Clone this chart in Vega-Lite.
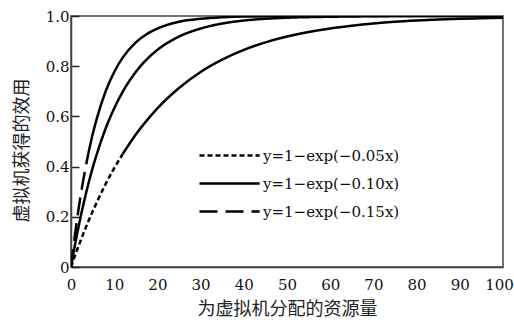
{
  "$schema": "https://vega.github.io/schema/vega-lite/v6.json",
  "width": 432,
  "height": 251,
  "autosize": {"type": "none"},
  "padding": {"left": 71, "top": 16, "right": 11, "bottom": 58},
  "background": "white",
  "config": {
    "view": {"stroke": "#444", "strokeWidth": 1.5},
    "axis": {"labelFont": "DejaVu Serif", "labelFontSize": 15, "labelColor": "#111", "titleFont": "Noto Sans CJK SC", "titleFontSize": 18, "titleFontWeight": "normal", "titleColor": "#222", "grid": false, "domainColor": "#444", "domainWidth": 1.5, "tickColor": "#222", "tickWidth": 1.5},
    "legend": {"labelFont": "DejaVu Serif"}
  },
  "data": {"values": [
    {"series": "y=1−exp(−0.05x)", "part": "a", "x": 0, "y": 0},
    {"series": "y=1−exp(−0.05x)", "part": "a", "x": 1, "y": 0.049},
    {"series": "y=1−exp(−0.05x)", "part": "a", "x": 2, "y": 0.095},
    {"series": "y=1−exp(−0.05x)", "part": "a", "x": 3, "y": 0.139},
    {"series": "y=1−exp(−0.05x)", "part": "a", "x": 4, "y": 0.181},
    {"series": "y=1−exp(−0.05x)", "part": "a", "x": 5, "y": 0.221},
    {"series": "y=1−exp(−0.05x)", "part": "a", "x": 6, "y": 0.259},
    {"series": "y=1−exp(−0.05x)", "part": "a", "x": 8, "y": 0.330},
    {"series": "y=1−exp(−0.05x)", "part": "a", "x": 10, "y": 0.394},
    {"series": "y=1−exp(−0.05x)", "part": "a", "x": 12, "y": 0.451},
    {"series": "y=1−exp(−0.05x)", "part": "b", "x": 12, "y": 0.451},
    {"series": "y=1−exp(−0.05x)", "part": "b", "x": 15, "y": 0.528},
    {"series": "y=1−exp(−0.05x)", "part": "b", "x": 18, "y": 0.593},
    {"series": "y=1−exp(−0.05x)", "part": "b", "x": 20, "y": 0.632},
    {"series": "y=1−exp(−0.05x)", "part": "b", "x": 25, "y": 0.713},
    {"series": "y=1−exp(−0.05x)", "part": "b", "x": 30, "y": 0.777},
    {"series": "y=1−exp(−0.05x)", "part": "b", "x": 35, "y": 0.826},
    {"series": "y=1−exp(−0.05x)", "part": "b", "x": 40, "y": 0.865},
    {"series": "y=1−exp(−0.05x)", "part": "b", "x": 45, "y": 0.895},
    {"series": "y=1−exp(−0.05x)", "part": "b", "x": 50, "y": 0.918},
    {"series": "y=1−exp(−0.05x)", "part": "b", "x": 55, "y": 0.936},
    {"series": "y=1−exp(−0.05x)", "part": "b", "x": 60, "y": 0.950},
    {"series": "y=1−exp(−0.05x)", "part": "b", "x": 65, "y": 0.961},
    {"series": "y=1−exp(−0.05x)", "part": "b", "x": 70, "y": 0.970},
    {"series": "y=1−exp(−0.05x)", "part": "b", "x": 75, "y": 0.977},
    {"series": "y=1−exp(−0.05x)", "part": "b", "x": 80, "y": 0.982},
    {"series": "y=1−exp(−0.05x)", "part": "b", "x": 85, "y": 0.986},
    {"series": "y=1−exp(−0.05x)", "part": "b", "x": 90, "y": 0.989},
    {"series": "y=1−exp(−0.05x)", "part": "b", "x": 95, "y": 0.991},
    {"series": "y=1−exp(−0.05x)", "part": "b", "x": 100, "y": 0.993},
    {"series": "y=1−exp(−0.10x)", "part": "a", "x": 0, "y": 0},
    {"series": "y=1−exp(−0.10x)", "part": "a", "x": 1, "y": 0.095},
    {"series": "y=1−exp(−0.10x)", "part": "a", "x": 2, "y": 0.181},
    {"series": "y=1−exp(−0.10x)", "part": "a", "x": 3, "y": 0.259},
    {"series": "y=1−exp(−0.10x)", "part": "a", "x": 4, "y": 0.330},
    {"series": "y=1−exp(−0.10x)", "part": "a", "x": 5, "y": 0.394},
    {"series": "y=1−exp(−0.10x)", "part": "a", "x": 6, "y": 0.451},
    {"series": "y=1−exp(−0.10x)", "part": "a", "x": 8, "y": 0.551},
    {"series": "y=1−exp(−0.10x)", "part": "a", "x": 10, "y": 0.632},
    {"series": "y=1−exp(−0.10x)", "part": "a", "x": 12, "y": 0.699},
    {"series": "y=1−exp(−0.10x)", "part": "a", "x": 15, "y": 0.777},
    {"series": "y=1−exp(−0.10x)", "part": "a", "x": 18, "y": 0.835},
    {"series": "y=1−exp(−0.10x)", "part": "a", "x": 20, "y": 0.865},
    {"series": "y=1−exp(−0.10x)", "part": "a", "x": 25, "y": 0.918},
    {"series": "y=1−exp(−0.10x)", "part": "a", "x": 30, "y": 0.950},
    {"series": "y=1−exp(−0.10x)", "part": "a", "x": 35, "y": 0.970},
    {"series": "y=1−exp(−0.10x)", "part": "a", "x": 40, "y": 0.982},
    {"series": "y=1−exp(−0.10x)", "part": "a", "x": 45, "y": 0.989},
    {"series": "y=1−exp(−0.10x)", "part": "a", "x": 50, "y": 0.993},
    {"series": "y=1−exp(−0.10x)", "part": "a", "x": 60, "y": 0.997},
    {"series": "y=1−exp(−0.10x)", "part": "a", "x": 70, "y": 0.999},
    {"series": "y=1−exp(−0.10x)", "part": "a", "x": 80, "y": 1.0},
    {"series": "y=1−exp(−0.10x)", "part": "a", "x": 90, "y": 1.0},
    {"series": "y=1−exp(−0.10x)", "part": "a", "x": 100, "y": 1.0},
    {"series": "y=1−exp(−0.15x)", "part": "a", "x": 0, "y": 0},
    {"series": "y=1−exp(−0.15x)", "part": "a", "x": 1, "y": 0.139},
    {"series": "y=1−exp(−0.15x)", "part": "a", "x": 2, "y": 0.259},
    {"series": "y=1−exp(−0.15x)", "part": "a", "x": 3, "y": 0.362},
    {"series": "y=1−exp(−0.15x)", "part": "a", "x": 4, "y": 0.451},
    {"series": "y=1−exp(−0.15x)", "part": "b", "x": 4, "y": 0.451},
    {"series": "y=1−exp(−0.15x)", "part": "b", "x": 5, "y": 0.528},
    {"series": "y=1−exp(−0.15x)", "part": "b", "x": 6, "y": 0.593},
    {"series": "y=1−exp(−0.15x)", "part": "b", "x": 8, "y": 0.699},
    {"series": "y=1−exp(−0.15x)", "part": "b", "x": 10, "y": 0.777},
    {"series": "y=1−exp(−0.15x)", "part": "b", "x": 12, "y": 0.835},
    {"series": "y=1−exp(−0.15x)", "part": "b", "x": 15, "y": 0.895},
    {"series": "y=1−exp(−0.15x)", "part": "b", "x": 18, "y": 0.933},
    {"series": "y=1−exp(−0.15x)", "part": "b", "x": 20, "y": 0.950},
    {"series": "y=1−exp(−0.15x)", "part": "b", "x": 25, "y": 0.977},
    {"series": "y=1−exp(−0.15x)", "part": "b", "x": 30, "y": 0.989},
    {"series": "y=1−exp(−0.15x)", "part": "b", "x": 35, "y": 0.995},
    {"series": "y=1−exp(−0.15x)", "part": "b", "x": 40, "y": 0.998},
    {"series": "y=1−exp(−0.15x)", "part": "b", "x": 50, "y": 0.999},
    {"series": "y=1−exp(−0.15x)", "part": "b", "x": 60, "y": 1.0},
    {"series": "y=1−exp(−0.15x)", "part": "b", "x": 70, "y": 1.0},
    {"series": "y=1−exp(−0.15x)", "part": "b", "x": 80, "y": 1.0},
    {"series": "y=1−exp(−0.15x)", "part": "b", "x": 90, "y": 1.0},
    {"series": "y=1−exp(−0.15x)", "part": "b", "x": 100, "y": 1.0}
  ]},
  "encoding": {
    "x": {"field": "x", "type": "quantitative", "scale": {"domain": [0, 100], "nice": false, "zero": true},
      "axis": {"title": "为虚拟机分配的资源量", "values": [0,10,20,30,40,50,60,70,80,90,100], "ticks": false, "labelPadding": 10, "labelFlush": false,
        "labelOffset": {"condition": {"test": "datum.value == 100", "value": -4}, "value": 0},
        "titleX": 216, "titleY": 42, "titleBaseline": "middle"}},
    "y": {"field": "y", "type": "quantitative", "scale": {"domain": [0, 1], "nice": false},
      "axis": {"title": "虚拟机获得的效用", "values": [0,0.2,0.4,0.6,0.8,1.0], "tickSize": -8, "labelPadding": 10, "labelFlush": false, "labelExpr": "datum.value == 0 ? '0' : format(datum.value, '.1f')", "titleX": -49, "titleY": 134, "titleBaseline": "middle"}}
  },
  "layer": [
    {
      "transform": [{"filter": "datum.part == 'a'"}],
      "mark": {"type": "line", "color": "black", "strokeWidth": 2.5, "interpolate": "monotone", "clip": true},
      "encoding": {
        "strokeDash": {"field": "series", "type": "nominal",
          "scale": {"domain": ["y=1−exp(−0.05x)", "y=1−exp(−0.10x)", "y=1−exp(−0.15x)"], "range": [[5, 3], [1, 0], [18, 8]]},
          "legend": {"title": null, "orient": "none", "legendX": 127, "legendY": 124, "symbolType": "M-1,0H3.3", "symbolSize": 784, "symbolStrokeWidth": 2.5, "symbolStrokeColor": "black", "labelFont": "DejaVu Serif", "labelFontSize": 15, "labelColor": "#111", "labelOffset": 34, "rowPadding": 4, "symbolOffset": 0}}
      }
    },
    {
      "transform": [{"filter": "datum.part == 'b'"}],
      "mark": {"type": "line", "color": "black", "strokeWidth": 2.5, "interpolate": "monotone", "clip": true},
      "encoding": {"detail": {"field": "series"}}
    }
  ]
}
